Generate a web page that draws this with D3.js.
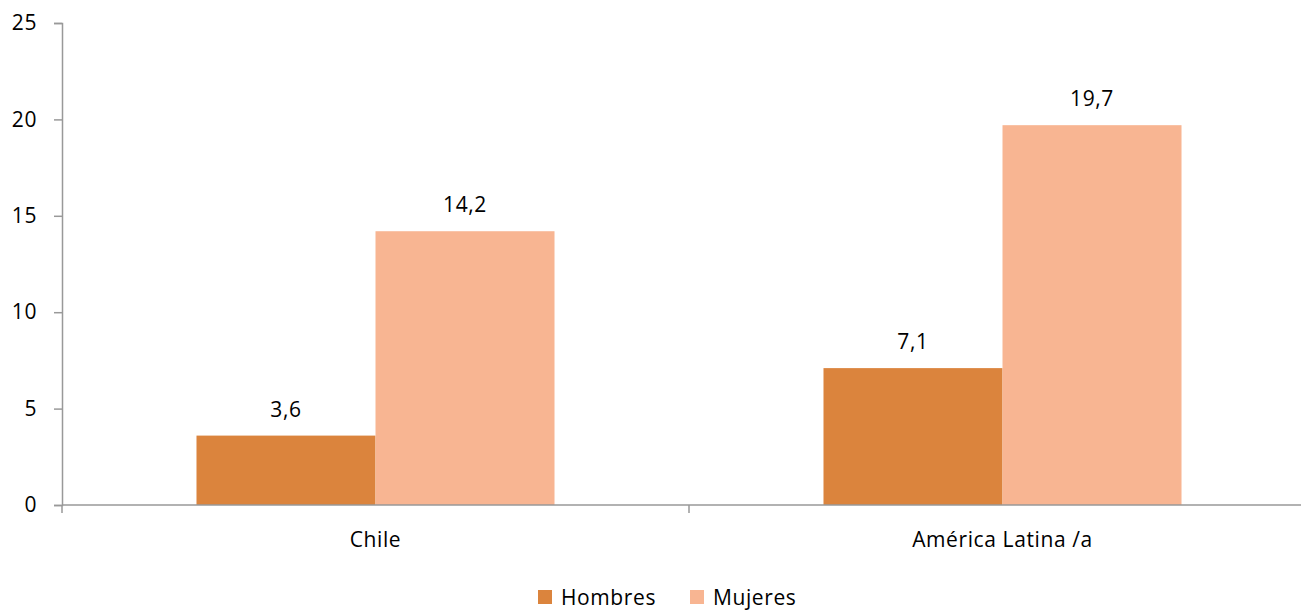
<!DOCTYPE html>
<html>
<head>
<meta charset="utf-8">
<script src="https://cdn.jsdelivr.net/npm/d3@7.9.0/dist/d3.min.js"></script>
<style>
  body { margin: 0; background: #fff; }
  svg { display: block; font-family: 'Open Sans', sans-serif; }
  svg text { letter-spacing: 0.6px; }
</style>
</head>
<body>
<svg id="chart" width="1301" height="612"></svg>
<script>
const categories = ['Chile', 'América Latina /a'];
const seriesNames = ['Hombres', 'Mujeres'];
const hombres = [3.6, 7.1];
const mujeres = [14.2, 19.7];
const yTicks = [0, 5, 10, 15, 20, 25];

const colors = { Hombres: '#DB843D', Mujeres: '#F8B592' };
const fmt = (v) => v.toFixed(1).replace('.', ',');
const fontSize = 21;

const svg = d3.select('#chart');
const margin = { left: 62, top: 23, right: -15, bottom: 107 };
const width = 1301;
const height = 612;

const x = d3.scaleBand()
  .domain(categories)
  .range([margin.left, width - margin.right])
  .paddingInner(0)
  .paddingOuter(0);

const y = d3.scaleLinear()
  .domain([0, 25])
  .range([height - margin.bottom, margin.top]);

// groups take about 57% of each band
const groupPad = (x.bandwidth() - x.bandwidth() * 0.571) / 2;
const xs = d3.scaleBand()
  .domain(seriesNames)
  .range([groupPad, x.bandwidth() - groupPad])
  .padding(0);

const data = categories.map((c, i) => ({
  cat: c,
  values: [
    { name: 'Hombres', value: hombres[i] },
    { name: 'Mujeres', value: mujeres[i] },
  ],
}));

// bars
const groups = svg.append('g')
  .selectAll('g')
  .data(data)
  .join('g')
  .attr('transform', (d) => `translate(${x(d.cat)},0)`);

groups.selectAll('rect')
  .data((d) => d.values)
  .join('rect')
  .attr('x', (d) => xs(d.name))
  .attr('y', (d) => y(d.value))
  .attr('width', xs.bandwidth())
  .attr('height', (d) => y(0) - y(d.value))
  .attr('fill', (d) => colors[d.name]);

groups.selectAll('text')
  .data((d) => d.values)
  .join('text')
  .attr('x', (d) => xs(d.name) + xs.bandwidth() / 2)
  .attr('y', (d) => y(d.value) - 19)
  .attr('text-anchor', 'middle')
  .attr('font-size', fontSize)
  .attr('fill', '#000')
  .text((d) => fmt(d.value));

// y axis
const yAxis = svg.append('g')
  .attr('transform', `translate(${margin.left},0)`)
  .call(d3.axisLeft(y).tickValues(yTicks).tickSize(8).tickPadding(17).tickFormat(d3.format('d')));
yAxis.select('.domain').attr('stroke', '#999').attr('stroke-width', 1.5);
yAxis.selectAll('.tick line').attr('stroke', '#999').attr('stroke-width', 1.5);
yAxis.selectAll('.tick text')
  .attr('font-size', fontSize)
  .attr('font-family', "'Open Sans', sans-serif")
  .attr('fill', '#000');

// x axis
const xAxis = svg.append('g')
  .attr('transform', `translate(0,${y(0)})`);
xAxis.append('line')
  .attr('x1', margin.left)
  .attr('x2', width - margin.right)
  .attr('stroke', '#999')
  .attr('stroke-width', 1.5);
xAxis.selectAll('.sep')
  .data(categories.concat(['end']))
  .join('line')
  .attr('class', 'sep')
  .attr('x1', (d, i) => margin.left + i * x.bandwidth())
  .attr('x2', (d, i) => margin.left + i * x.bandwidth())
  .attr('y1', 0)
  .attr('y2', 8)
  .attr('stroke', '#999')
  .attr('stroke-width', 1.5);
xAxis.selectAll('.cat')
  .data(categories)
  .join('text')
  .attr('class', 'cat')
  .attr('x', (d) => x(d) + x.bandwidth() / 2)
  .attr('y', 42)
  .attr('text-anchor', 'middle')
  .attr('font-size', fontSize)
  .text((d) => d);

// legend (nudged up a little so descenders stay inside the frame)
const legend = svg.append('g').attr('transform', 'translate(538,590)');
const legendX = [0, 152];
seriesNames.forEach((s, i) => {
  const g = legend.append('g').attr('transform', `translate(${legendX[i]},0)`);
  g.append('rect').attr('width', 14).attr('height', 14).attr('fill', colors[s]);
  g.append('text')
    .attr('x', 23)
    .attr('y', 15)
    .attr('font-size', fontSize)
    .text(s);
});
</script>
</body>
</html>
